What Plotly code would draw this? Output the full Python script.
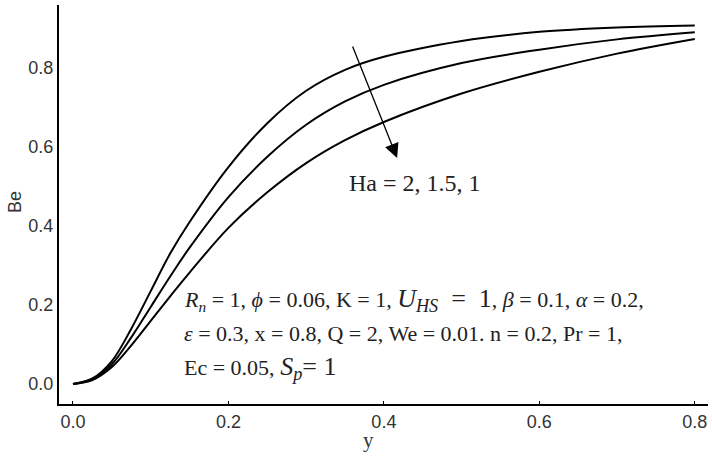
import plotly.graph_objects as go

# Data
y_vals = [0.0, 0.025, 0.05, 0.075, 0.1, 0.125, 0.15, 0.2, 0.25, 0.3, 0.35, 0.4, 0.5, 0.6, 0.7, 0.8]
be_ha2 = [0.0, 0.014, 0.058, 0.140, 0.235, 0.330, 0.410, 0.549, 0.660, 0.742, 0.795, 0.828, 0.868, 0.891, 0.902, 0.907]
be_ha15 = [0.0, 0.012, 0.050, 0.118, 0.195, 0.272, 0.345, 0.473, 0.575, 0.656, 0.715, 0.757, 0.812, 0.846, 0.872, 0.890]
be_ha1 = [0.0, 0.010, 0.043, 0.098, 0.160, 0.222, 0.282, 0.395, 0.485, 0.559, 0.617, 0.663, 0.735, 0.790, 0.836, 0.873]
series = [("Ha = 2", be_ha2), ("Ha = 1.5", be_ha15), ("Ha = 1", be_ha1)]

x_ticks = [0.0, 0.2, 0.4, 0.6, 0.8]
x_tick_labels = ["0.0", "0.2", "0.4", "0.6", "0.8"]
y_ticks = [0.0, 0.2, 0.4, 0.6, 0.8]
y_tick_labels = ["0.0", "0.2", "0.4", "0.6", "0.8"]

SERIF = "Liberation Serif, Times New Roman, serif"
SANS = "Liberation Sans, Arial, sans-serif"

fig = go.Figure()
for name, vals in series:
    fig.add_trace(go.Scatter(x=y_vals, y=vals, mode="lines", name=name,
                             line=dict(color="black", width=2, shape="spline", smoothing=1.0),
                             showlegend=False, hoverinfo="skip"))

fig.update_layout(
    width=712, height=459,
    margin=dict(l=59, r=4, t=5, b=55),
    paper_bgcolor="white", plot_bgcolor="white",
    xaxis=dict(range=[-0.018, 0.817], tickvals=x_ticks, ticktext=x_tick_labels, automargin=False,
               showline=True, linecolor="black", linewidth=2, showgrid=False, zeroline=False,
               ticks="inside", ticklen=3, tickwidth=1, tickcolor="black",
               tickfont=dict(family=SANS, size=18, color="#333")),
    yaxis=dict(range=[-0.0506, 0.959], tickvals=y_ticks, ticktext=y_tick_labels, automargin=False,
               showline=True, linecolor="black", linewidth=2, showgrid=False, zeroline=False,
               ticks="", tickfont=dict(family=SANS, size=18, color="#333")),
)

annotations = [
    # axis titles
    dict(text="Be", xref="paper", yref="paper", x=0, y=0.506, xshift=-44, xanchor="center",
         yanchor="middle", textangle=-90, showarrow=False, font=dict(family=SANS, size=18, color="#333")),
    dict(text="y", xref="paper", yref="paper", x=0.477, y=0, yshift=-36, xanchor="center",
         yanchor="middle", showarrow=False, font=dict(family=SERIF, size=21, color="#333")),
    # arrow
    dict(x=0.417, y=0.572, ax=0.359, ay=0.858, xref="x", yref="y", axref="x", ayref="y",
         text="", showarrow=True, arrowhead=2, arrowsize=2.2, arrowwidth=1.3, arrowcolor="black"),
    dict(text="Ha = 2, 1.5, 1", x=0.352, y=0.509, xref="x", yref="y", xanchor="left",
         yanchor="middle", showarrow=False, font=dict(family=SERIF, size=24, color="#222")),
    # parameter block
    dict(text="<i>R</i><sub><i>n</i></sub> = 1, <i>ϕ</i> = 0.06, K = 1, <span style=\"font-size:26px\"><i>U</i><sub><i>HS</i></sub>  =  1</span>, <i>β</i> = 0.1, <i>α</i> = 0.2,",
         x=0.140, y=0.213, xref="x", yref="y", xanchor="left", yanchor="middle", showarrow=False,
         font=dict(family=SERIF, size=22, color="#222")),
    dict(text="<i>ε</i> = 0.3, x = 0.8, Q = 2, We = 0.01. n = 0.2, Pr = 1,",
         x=0.140, y=0.127, xref="x", yref="y", xanchor="left", yanchor="middle", showarrow=False,
         font=dict(family=SERIF, size=22, color="#222")),
    dict(text="Ec = 0.05, <span style=\"font-size:26px\"><i>S</i><sub><i>p</i></sub>= 1</span>",
         x=0.140, y=0.041, xref="x", yref="y", xanchor="left", yanchor="middle", showarrow=False,
         font=dict(family=SERIF, size=22, color="#222")),
]
fig.update_layout(annotations=annotations)

fig.write_html("out.html", config={"displayModeBar": False},
               post_script="document.body.style.margin='0';document.body.style.padding='0';")
